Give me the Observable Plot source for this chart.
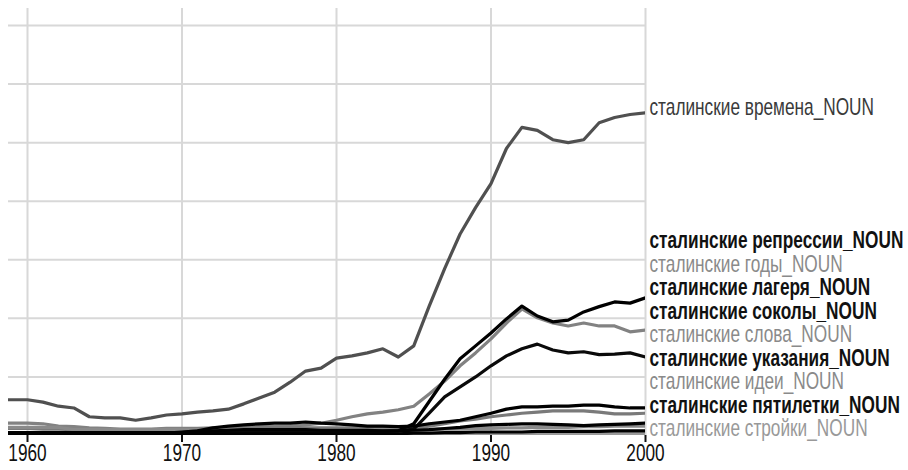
<!DOCTYPE html>
<html>
<head>
<meta charset="utf-8">
<script src="https://cdn.jsdelivr.net/npm/d3@7"></script>
<script src="https://cdn.jsdelivr.net/npm/@observablehq/plot@0.6"></script>
<style>
  body { margin: 0; background: #fff; }
  #chart svg { display: block; }
</style>
</head>
<body>
<div id="chart"></div>
<script>
const years = [1958,1959,1960,1961,1962,1963,1964,1965,1966,1967,1968,1969,1970,1971,1972,1973,1974,1975,1976,1977,1978,1979,1980,1981,1982,1983,1984,1985,1986,1987,1988,1989,1990,1991,1992,1993,1994,1995,1996,1997,1998,1999,2000];
const tickYears = [1960, 1970, 1980, 1990, 2000];

const terms = [
  "сталинские времена_NOUN",
  "сталинские репрессии_NOUN",
  "сталинские годы_NOUN",
  "сталинские лагеря_NOUN",
  "сталинские соколы_NOUN",
  "сталинские слова_NOUN",
  "сталинские указания_NOUN",
  "сталинские идеи_NOUN",
  "сталинские пятилетки_NOUN",
  "сталинские стройки_NOUN"
];

const vremena    = [0.61,0.61,0.61,0.57,0.50,0.47,0.32,0.30,0.30,0.26,0.30,0.35,0.37,0.40,0.42,0.45,0.54,0.64,0.74,0.91,1.10,1.15,1.32,1.36,1.41,1.48,1.34,1.53,2.21,2.85,3.44,3.89,4.30,4.90,5.26,5.21,5.05,5.00,5.05,5.34,5.43,5.48,5.51];
const repressii  = [0.05,0.05,0.05,0.05,0.04,0.04,0.04,0.04,0.04,0.04,0.04,0.04,0.05,0.05,0.06,0.06,0.07,0.07,0.07,0.07,0.07,0.07,0.07,0.07,0.07,0.07,0.08,0.20,0.58,0.96,1.31,1.53,1.75,1.99,2.21,2.04,1.94,1.97,2.11,2.20,2.28,2.26,2.35];
const gody       = [0.21,0.21,0.21,0.20,0.16,0.15,0.13,0.12,0.11,0.11,0.11,0.12,0.12,0.12,0.13,0.13,0.14,0.15,0.15,0.16,0.18,0.21,0.26,0.32,0.37,0.40,0.44,0.50,0.71,0.93,1.19,1.41,1.65,1.92,2.16,2.01,1.92,1.87,1.92,1.87,1.87,1.77,1.80];
const lagerya    = [0.05,0.05,0.05,0.05,0.05,0.05,0.05,0.05,0.05,0.05,0.05,0.05,0.05,0.05,0.05,0.05,0.05,0.05,0.05,0.05,0.05,0.05,0.06,0.06,0.06,0.07,0.08,0.11,0.38,0.66,0.83,1.00,1.19,1.36,1.48,1.56,1.46,1.41,1.43,1.38,1.39,1.41,1.34];
const sokoly     = [0.04,0.04,0.04,0.04,0.04,0.04,0.04,0.04,0.04,0.04,0.04,0.04,0.06,0.08,0.13,0.16,0.18,0.20,0.21,0.21,0.23,0.21,0.20,0.18,0.16,0.16,0.15,0.16,0.20,0.23,0.26,0.32,0.38,0.45,0.49,0.49,0.50,0.50,0.52,0.52,0.49,0.47,0.47];
const slova      = [0.12,0.12,0.12,0.11,0.11,0.10,0.10,0.10,0.10,0.10,0.10,0.10,0.10,0.11,0.11,0.11,0.12,0.13,0.13,0.13,0.13,0.13,0.13,0.13,0.13,0.13,0.12,0.13,0.16,0.20,0.25,0.28,0.32,0.35,0.38,0.40,0.42,0.42,0.42,0.40,0.37,0.37,0.38];
const ukazaniya  = [0.05,0.05,0.05,0.05,0.05,0.05,0.05,0.05,0.05,0.05,0.05,0.05,0.05,0.07,0.08,0.09,0.10,0.10,0.10,0.10,0.10,0.09,0.09,0.09,0.09,0.08,0.08,0.09,0.10,0.12,0.14,0.17,0.18,0.19,0.20,0.20,0.19,0.18,0.17,0.18,0.19,0.20,0.21];
const idei       = [0.14,0.14,0.14,0.14,0.14,0.10,0.10,0.10,0.10,0.10,0.10,0.10,0.10,0.10,0.10,0.10,0.10,0.10,0.10,0.10,0.10,0.10,0.10,0.10,0.10,0.10,0.10,0.09,0.10,0.11,0.11,0.12,0.12,0.13,0.13,0.14,0.14,0.14,0.15,0.15,0.16,0.16,0.16];
const pyatiletki = [0.03,0.03,0.03,0.03,0.03,0.03,0.03,0.03,0.03,0.03,0.03,0.03,0.03,0.03,0.03,0.03,0.03,0.03,0.03,0.03,0.03,0.03,0.03,0.03,0.03,0.03,0.03,0.04,0.04,0.05,0.05,0.06,0.06,0.06,0.06,0.07,0.07,0.07,0.07,0.07,0.08,0.08,0.08];
const stroyki    = [0.02,0.02,0.02,0.02,0.02,0.02,0.02,0.02,0.02,0.02,0.02,0.02,0.02,0.02,0.02,0.02,0.02,0.02,0.02,0.02,0.02,0.02,0.02,0.02,0.02,0.02,0.02,0.02,0.02,0.02,0.02,0.02,0.02,0.02,0.02,0.02,0.02,0.03,0.03,0.03,0.03,0.03,0.03];

const seriesValues = [vremena, repressii, gody, lagerya, sokoly, slova, ukazaniya, idei, pyatiletki, stroyki];

// ---- build table ----
const rows = [];
terms.forEach((term, i) => {
  seriesValues[i].forEach((v, j) => rows.push({ term, year: years[j], value: v }));
});

// ---- layout ----
const W = 908, H = 470;
const margin = { top: 8, right: 263, bottom: 35, left: 8 };
const xDomain = [1958.77, 2000];
const yDomain = [0, 7.29];
const FONT = "'Liberation Sans', Arial, sans-serif";
const SQUEEZE = 0.75; // the reference uses a condensed face

const palette = {
  domain: terms,
  range: ["#505050", "#000000", "#828282", "#0a0a0a", "#000000", "#7a7a7a", "#000000", "#8a8a8a", "#000000", "#9a9a9a"]
};
const labelFill = ["#3a3a3a", "#111", "#8a8a8a", "#111", "#111", "#8a8a8a", "#111", "#8a8a8a", "#111", "#999"];
const labelWeight = ["normal", "bold", "normal", "bold", "bold", "normal", "bold", "normal", "bold", "normal"];

// label de-collision: pack from the bottom, in pixel space, via a y scale equal to the plot's
const yScale = d3.scaleLinear(yDomain, [H - margin.bottom, margin.top]);
const ends = terms.map((term, i) => ({ term, i, value: seriesValues[i][seriesValues[i].length - 1] }));
ends.sort((a, b) => a.value - b.value); // bottom first
const gap = 23.5;
let prev = Infinity;
for (const e of ends) {
  let py = yScale(e.value);
  if (py > prev - gap) py = prev - gap;
  e.py = py;
  prev = py;
}
const labels = ends.map(e => ({ term: e.term, year: 2000, y: yScale.invert(e.py), fill: labelFill[e.i], weight: labelWeight[e.i] }));

// draw grey lines first, black ones on top
const greyFirst = [0, 2, 5, 7, 9, 1, 3, 4, 6, 8].map(i => terms[i]);
const linesData = greyFirst.flatMap(t => rows.filter(r => r.term === t));

const chart = Plot.plot({
  width: W,
  height: H,
  marginTop: margin.top,
  marginRight: margin.right,
  marginBottom: margin.bottom,
  marginLeft: margin.left,
  style: { fontFamily: FONT, background: "#fff" },
  x: { domain: xDomain },
  y: { domain: yDomain, axis: null },
  color: palette,
  marks: [
    Plot.gridX(tickYears, { stroke: "#d8d8d8", strokeOpacity: 1, strokeWidth: 2 }),
    Plot.gridY(d3.range(1, 8), { stroke: "#d8d8d8", strokeOpacity: 1, strokeWidth: 2 }),
    Plot.lineY(linesData, {
      x: "year", y: "value", z: "term", stroke: "term",
      strokeWidth: 3.2, strokeLinejoin: "round", strokeLinecap: "round", clip: true
    }),
    Plot.axisX({
      ticks: tickYears, tickFormat: d => String(d), tickSize: 7, tickPadding: 2, label: null,
      strokeWidth: 2, fontSize: 23, fontFamily: FONT, fill: "#111", stroke: "#111"
    }),
    Plot.text(labels.filter(d => d.weight === "bold"), {
      x: "year", y: "y", text: "term", fill: "fill", textAnchor: "start",
      dx: 4, dy: -5, fontSize: 23, fontWeight: "bold", fontFamily: FONT
    }),
    Plot.text(labels.filter(d => d.weight !== "bold"), {
      x: "year", y: "y", text: "term", fill: "fill", textAnchor: "start",
      dx: 4, dy: -5, fontSize: 23, fontFamily: FONT
    })
  ]
});
document.getElementById("chart").append(chart);

// condense every text horizontally around its own anchor (still real text);
// only the horizontal position is moved into the transform, vertical attributes stay as Plot set them
chart.querySelectorAll("text").forEach(t => {
  const tr = t.getAttribute("transform") || "";
  const xa = t.getAttribute("x");
  let x = 0;
  if (xa != null && /^-?[\d.]+$/.test(xa.trim())) {
    x = parseFloat(xa);
    t.removeAttribute("x");
  }
  t.setAttribute("transform", `${tr} translate(${x},0) scale(${SQUEEZE},1)`.trim());
});
</script>
</body>
</html>
